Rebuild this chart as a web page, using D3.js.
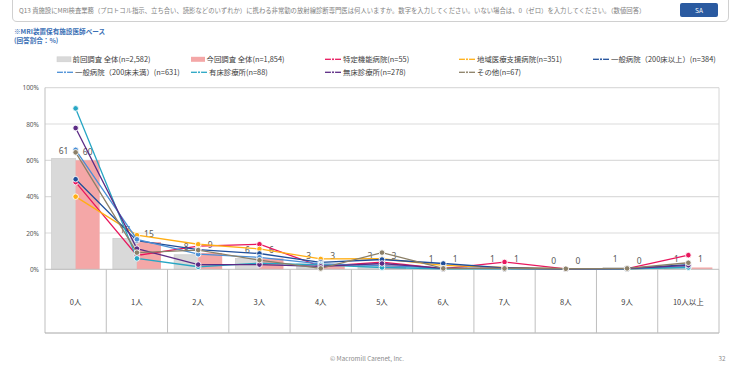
<!DOCTYPE html>
<html>
<head>
<meta charset="utf-8">
<script src="https://cdn.jsdelivr.net/npm/d3@7"></script>
<style>
  html, body { margin: 0; padding: 0; background: #fff; }
  svg { display: block; font-family: "Noto Sans CJK JP", "Noto Sans", sans-serif; }
</style>
</head>
<body>
<svg id="chart" width="735" height="370"></svg>
<script>
// Categories: number of part-time diagnostic radiologists
const categories = ["0人", "1人", "2人", "3人", "4人", "5人", "6人", "7人", "8人", "9人", "10人以上"];

// Bar series (%)
const prevTotal = [61, 17, 8, 6, 3, 3, 1, 1, 0, 1, 1];
const currTotal = [60, 15, 9, 6, 3, 3, 1, 1, 0, 0, 1];

// Line series by facility type (%)
const tokutei   = [48.0, 7.6, 12.8, 13.8, 1.6, 4.0, 0.4, 4.0, 0.2, 0.4, 7.8];
const chiiki    = [40.0, 18.8, 13.8, 11.2, 5.7, 5.8, 2.2, 1.0, 0.3, 0.3, 1.2];
const ippanL    = [49.6, 15.8, 10.8, 8.7, 3.8, 5.4, 3.2, 0.8, 0.3, 0.5, 2.6];
const ippanS    = [65.8, 16.5, 8.3, 6.6, 3.0, 2.0, 0.6, 0.4, 0.2, 0.3, 1.5];
const yushou    = [88.6, 6.0, 1.4, 3.4, 2.4, 1.0, 0.3, 0.3, 0.2, 0.2, 1.0];
const mushou    = [77.8, 11.4, 2.6, 2.6, 1.6, 3.2, 0.5, 0.5, 0.2, 0.4, 2.2];
const sonota    = [64.4, 9.2, 10.6, 5.0, 0.5, 9.2, 0.5, 0.5, 0.3, 0.5, 3.6];

// Legend texts
const barNames = ["前回調査 全体(n=2,582)", "今回調査 全体(n=1,854)"];
const lineNames = [
  "特定機能病院(n=55)", "地域医療支援病院(n=351)", "一般病院（200床以上）(n=384)",
  "一般病院（200床未満）(n=631)", "有床診療所(n=88)", "無床診療所(n=278)", "その他(n=67)"
];
const lineData = [tokutei, chiiki, ippanL, ippanS, yushou, mushou, sonota];
const lineColors = ["#e8175d", "#ffae14", "#1f4e9a", "#4a8fd6", "#27a6c4", "#5c2b85", "#8c8068"];
const barColors = ["#d9d9d9", "#f4a7a7"];

const yTicks = [0, 20, 40, 60, 80, 100];

const svg = d3.select("#chart");
const textGrey = "#595959";

// ---- Header box ----
svg.append("path")
  .attr("d", "M12.5,0 L12.5,17 Q12.5,21.5 17,21.5 L724,21.5 Q728.5,21.5 728.5,17 L728.5,0")
  .attr("fill", "#fff").attr("stroke", "#d0d0d0");
svg.append("text")
  .attr("x", 19).attr("y", 13)
  .attr("font-size", 6.35).attr("fill", "#7f7f7f")
  .text("Q13 貴施設にMRI検査業務（プロトコル指示、立ち合い、読影などのいずれか）に携わる非常勤の放射線診断専門医は何人いますか。数字を入力してください。いない場合は、0（ゼロ）を入力してください。（数値回答）");
svg.append("rect")
  .attr("x", 680).attr("y", 3).attr("width", 38).attr("height", 14).attr("rx", 2)
  .attr("fill", "#2a5aa0");
svg.append("text")
  .attr("x", 699).attr("y", 12.5).attr("text-anchor", "middle")
  .attr("font-size", 6.5).attr("fill", "#fff").text("SA");

// ---- Base note ----
svg.append("text").attr("x", 14).attr("y", 34).attr("font-size", 6.6)
  .attr("font-weight", "bold").attr("fill", "#3a6fb5").text("※MRI装置保有施設医師ベース");
svg.append("text").attr("x", 14).attr("y", 42.5).attr("font-size", 6.6)
  .attr("font-weight", "bold").attr("fill", "#3a6fb5").text("(回答割合：%)");

// ---- Scales ----
const plotLeft = 45, plotRight = 719, plotTop = 87.7, plotBottom = 269.3, tableBottom = 333;
const x = d3.scaleBand().domain(categories).range([plotLeft, plotRight]).padding(0);
const band = x.bandwidth();
const x1 = d3.scaleBand().domain([0, 1]).range([band * 0.108, band * 0.892]).padding(0);
const y = d3.scaleLinear().domain([0, 100]).range([plotBottom, plotTop]);

// ---- Grid & axis ----
const grid = svg.append("g");
grid.selectAll("line").data(yTicks.filter(d => d > 0)).join("line")
  .attr("x1", plotLeft).attr("x2", plotRight)
  .attr("y1", d => y(d)).attr("y2", d => y(d))
  .attr("stroke", "#dcdcdc").attr("stroke-width", 1.2);
svg.append("line").attr("x1", plotRight).attr("x2", plotRight).attr("y1", plotTop).attr("y2", plotBottom)
  .attr("stroke", "#d6d6d6").attr("stroke-width", 1);

const yAxis = d3.axisLeft(y).tickValues(yTicks).tickFormat(d => d + "%").tickSize(0).tickPadding(6);
const yg = svg.append("g").attr("transform", `translate(${plotLeft},0)`).call(yAxis);
yg.select(".domain").remove();
yg.selectAll("text").attr("font-size", 6.5).attr("fill", textGrey)
  .attr("font-family", "Noto Sans, sans-serif");

// ---- Bars ----
const bars = svg.append("g");
[prevTotal, currTotal].forEach((series, si) => {
  bars.append("g").selectAll("rect").data(series).join("rect")
    .attr("x", (d, i) => x(categories[i]) + x1(si))
    .attr("y", d => y(d))
    .attr("width", x1.bandwidth())
    .attr("height", d => y(0) - y(d))
    .attr("fill", barColors[si])
    .attr("stroke", si === 0 ? "#cfcfcf" : "none")
    .attr("stroke-width", 0.8);
});

// Bar value labels
[prevTotal, currTotal].forEach((series, si) => {
  svg.append("g").selectAll("text").data(series).join("text")
    .attr("x", (d, i) => x(categories[i]) + x1(si) + x1.bandwidth() / 2)
    .attr("y", d => y(d) - 5)
    .attr("text-anchor", "middle")
    .attr("font-size", 8.5).attr("fill", textGrey)
    .attr("font-family", "Noto Sans, sans-serif")
    .text(d => d);
});

// Axis lines (left + baseline) and category table
svg.append("line").attr("x1", plotLeft).attr("x2", plotLeft).attr("y1", plotTop).attr("y2", tableBottom)
  .attr("stroke", "#bfbfbf");
svg.append("line").attr("x1", plotLeft).attr("x2", plotRight).attr("y1", plotBottom).attr("y2", plotBottom)
  .attr("stroke", "#bfbfbf");
svg.append("line").attr("x1", plotLeft).attr("x2", plotRight).attr("y1", tableBottom).attr("y2", tableBottom)
  .attr("stroke", "#a6a6a6");
svg.append("g").selectAll("line").data(categories).join("line")
  .attr("x1", d => x(d) + band).attr("x2", d => x(d) + band)
  .attr("y1", plotBottom).attr("y2", tableBottom)
  .attr("stroke", "#bfbfbf");
svg.append("g").selectAll("text").data(categories).join("text")
  .attr("x", d => x(d) + band / 2).attr("y", 305)
  .attr("text-anchor", "middle").attr("font-size", 7.5).attr("fill", "#404040")
  .text(d => d);

// ---- Lines ----
const line = d3.line()
  .x((d, i) => x(categories[i]) + band / 2)
  .y(d => y(d));
lineData.forEach((series, si) => {
  const g = svg.append("g");
  g.append("path").datum(series).attr("d", line)
    .attr("fill", "none").attr("stroke", lineColors[si]).attr("stroke-width", 1.3);
  g.selectAll("circle").data(series).join("circle")
    .attr("cx", (d, i) => x(categories[i]) + band / 2)
    .attr("cy", d => y(d))
    .attr("r", 2.8)
    .attr("fill", lineColors[si]).attr("stroke", "#fff").attr("stroke-width", 0.9);
});

// ---- Legend ----
const legX = [57, 191, 325, 459, 593];
const legend = svg.append("g").attr("font-size", 7.4).attr("fill", "#404040");
const items = [
  { type: "bar", name: barNames[0], color: barColors[0] },
  { type: "bar", name: barNames[1], color: barColors[1] },
  ...lineNames.map((n, i) => ({ type: "line", name: n, color: lineColors[i] }))
];
items.forEach((it, i) => {
  const row = Math.floor(i / 5), col = i % 5;
  const lx = legX[col], ly = row === 0 ? 59.3 : 72.3;
  const g = legend.append("g").attr("transform", `translate(${lx},${ly})`);
  if (it.type === "bar") {
    g.append("rect").attr("x", 0).attr("y", -2.5).attr("width", 14).attr("height", 5)
      .attr("fill", it.color).attr("stroke", i === 0 ? "#cfcfcf" : "none").attr("stroke-width", 0.6);
    g.append("text").attr("x", 15.5).attr("y", 2.7).text(it.name);
  } else {
    g.append("line").attr("x1", 0).attr("x2", 16).attr("y1", 0).attr("y2", 0)
      .attr("stroke", it.color).attr("stroke-width", 1.3);
    g.append("circle").attr("cx", 8).attr("cy", 0).attr("r", 1.6)
      .attr("fill", it.color).attr("stroke", "#fff").attr("stroke-width", 1.2);
    g.append("text").attr("x", 18).attr("y", 2.7).text(it.name);
  }
});

// ---- Footer ----
svg.append("text").attr("x", 367).attr("y", 361).attr("text-anchor", "middle")
  .attr("font-size", 6.3).attr("fill", "#8c8c8c").text("© Macromill Carenet, Inc.");
svg.append("text").attr("x", 722).attr("y", 361).attr("text-anchor", "middle")
  .attr("font-size", 6.3).attr("fill", "#8c8c8c").text("32");
</script>
</body>
</html>
